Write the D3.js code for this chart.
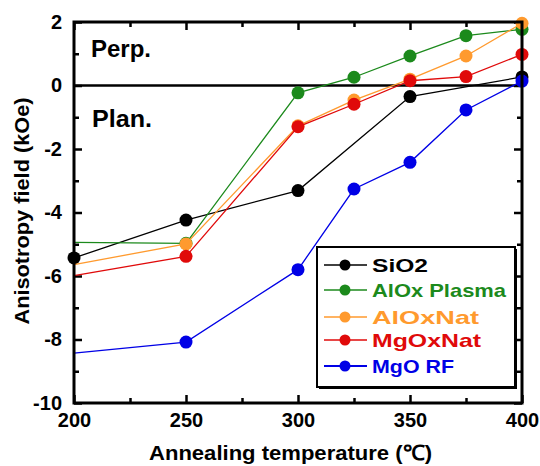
<!DOCTYPE html>
<html><head><meta charset="utf-8">
<script src="https://cdn.jsdelivr.net/npm/d3@7"></script>
<style>body{margin:0;background:#fff}svg{display:block}text{font-family:"Liberation Sans",Arial,sans-serif;font-weight:bold}</style>
</head><body><svg id="c" width="540" height="466"></svg>
<script>
// Data
const temps = [200, 250, 300, 325, 350, 375, 400];
const seriesNames = ["SiO2", "AlOx Plasma", "AlOxNat", "MgOxNat", "MgO RF"];
const seriesColors = ["#000000", "#1c8a1c", "#ff9a2e", "#e00a0a", "#0000e6"];
const sio2 = [-5.43, -4.24, -3.31, null, -0.35, null, 0.27];
const aloxPlasma = [-4.94, -4.97, -0.23, 0.26, 0.93, 1.57, 1.77];
const aloxNat = [-5.64, -4.99, -1.27, -0.46, 0.20, 0.93, 1.96];
const mgoxNat = [-5.99, -5.38, -1.30, -0.59, 0.15, 0.28, 0.98];
const mgoRF = [-8.43, -8.08, -5.80, -3.26, -2.42, -0.77, 0.14];
const firstMarkedTemp = [200, 250, 250, 250, 250];
const xMajorTicks = [200, 250, 300, 350, 400];
const xMinorTicks = [225, 275, 325, 375];
const yMajorTicks = [2, 0, -2, -4, -6, -8, -10];
const yMinorTicks = [1, -1, -3, -5, -7, -9];
const seriesValues = [sio2, aloxPlasma, aloxNat, mgoxNat, mgoRF];

const svg = d3.select("#c");
const L = 74, R = 522, T = 22, B = 403;
const x = d3.scaleLinear().domain([200, 400]).range([L, R]);
const y = d3.scaleLinear().domain([-10, 2]).range([B, T]);

const fs = 20;
const plain = d => String(d);
function styleAxis(g) {
  g.select(".domain").remove();
  g.selectAll("line").attr("stroke", "#000").attr("stroke-width", 2.5);
  g.selectAll("text").attr("font-size", fs).attr("fill", "#000")
    .style("font-family", '"Liberation Sans",Arial,sans-serif').style("font-weight", "bold");
}
// bottom
svg.append("g").attr("transform", `translate(0,${B})`)
  .call(d3.axisBottom(x).tickValues(xMajorTicks).tickSizeInner(-8).tickSizeOuter(0).tickPadding(10).tickFormat(plain))
  .call(styleAxis);
svg.append("g").attr("transform", `translate(0,${B})`)
  .call(d3.axisBottom(x).tickValues(xMinorTicks).tickSizeInner(-5).tickSizeOuter(0).tickFormat(""))
  .call(styleAxis);
// top
svg.append("g").attr("transform", `translate(0,${T})`)
  .call(d3.axisTop(x).tickValues(xMajorTicks).tickSizeInner(-8).tickSizeOuter(0).tickFormat(""))
  .call(styleAxis);
svg.append("g").attr("transform", `translate(0,${T})`)
  .call(d3.axisTop(x).tickValues(xMinorTicks).tickSizeInner(-5).tickSizeOuter(0).tickFormat(""))
  .call(styleAxis);
// left
svg.append("g").attr("transform", `translate(${L},0)`)
  .call(d3.axisLeft(y).tickValues(yMajorTicks).tickSizeInner(-8).tickSizeOuter(0).tickPadding(12).tickFormat(plain))
  .call(styleAxis);
svg.append("g").attr("transform", `translate(${L},0)`)
  .call(d3.axisLeft(y).tickValues(yMinorTicks).tickSizeInner(-5).tickSizeOuter(0).tickFormat(""))
  .call(styleAxis);
// right
svg.append("g").attr("transform", `translate(${R},0)`)
  .call(d3.axisRight(y).tickValues(yMajorTicks).tickSizeInner(-8).tickSizeOuter(0).tickFormat(""))
  .call(styleAxis);
svg.append("g").attr("transform", `translate(${R},0)`)
  .call(d3.axisRight(y).tickValues(yMinorTicks).tickSizeInner(-5).tickSizeOuter(0).tickFormat(""))
  .call(styleAxis);

// zero line
svg.append("line").attr("x1", L).attr("x2", R).attr("y1", y(0)).attr("y2", y(0))
  .attr("stroke", "#000").attr("stroke-width", 2.5);

// Region labels
svg.append("text").attr("x", 91).attr("y", 57).attr("font-size", 23).attr("textLength", 60).attr("lengthAdjust", "spacingAndGlyphs").text("Perp.");
svg.append("text").attr("x", 92).attr("y", 127).attr("font-size", 23).attr("textLength", 60).attr("lengthAdjust", "spacingAndGlyphs").text("Plan.");

// series
const line = d3.line().defined(d => d.v !== null).x(d => x(d.t)).y(d => y(d.v));
seriesValues.forEach((vals, i) => {
  const pts = temps.map((t, j) => ({ t, v: vals[j] }));
  const data = pts.filter(d => d.v !== null);
  const g = svg.append("g");
  g.append("path").datum(data).attr("d", line).attr("fill", "none")
    .attr("stroke", seriesColors[i]).attr("stroke-width", 1.3);
  g.selectAll("circle").data(data.filter(d => d.t >= firstMarkedTemp[i])).join("circle")
    .attr("cx", d => x(d.t)).attr("cy", d => y(d.v)).attr("r", 6.5).attr("fill", seriesColors[i]);
});

// frame
svg.append("rect").attr("x", L).attr("y", T).attr("width", R - L).attr("height", B - T)
  .attr("fill", "none").attr("stroke", "#000").attr("stroke-width", 3);

// legend
const lg = svg.append("g");
lg.append("rect").attr("x", 319).attr("y", 249).attr("width", 198).attr("height", 140).attr("fill", "#000");
lg.append("rect").attr("x", 317).attr("y", 247).attr("width", 198).attr("height", 140)
  .attr("fill", "#fff").attr("stroke", "#000").attr("stroke-width", 2);
const rowY = [265, 290, 317, 340, 366];
const textW = [56, 134, 107, 109, 82];
seriesNames.forEach((n, i) => {
  lg.append("line").attr("x1", 324).attr("x2", 367).attr("y1", rowY[i]).attr("y2", rowY[i])
    .attr("stroke", seriesColors[i]).attr("stroke-width", i === 4 ? 2 : 1.5);
  lg.append("circle").attr("cx", 345).attr("cy", rowY[i]).attr("r", 5.5).attr("fill", seriesColors[i]);
  lg.append("text").attr("x", 372).attr("y", rowY[i] + 7).attr("font-size", 19)
    .attr("fill", seriesColors[i]).attr("textLength", textW[i]).attr("lengthAdjust", "spacingAndGlyphs").text(n);
});

// axis titles
svg.append("text").attr("x", 149).attr("y", 460).attr("font-size", 21)
  .attr("textLength", 283).attr("lengthAdjust", "spacingAndGlyphs").text("Annealing temperature (℃)");
svg.append("text").attr("transform", "translate(29,211) rotate(-90)").attr("text-anchor", "middle")
  .attr("font-size", 21).attr("textLength", 227).attr("lengthAdjust", "spacingAndGlyphs").text("Anisotropy field (kOe)");
</script></body></html>
